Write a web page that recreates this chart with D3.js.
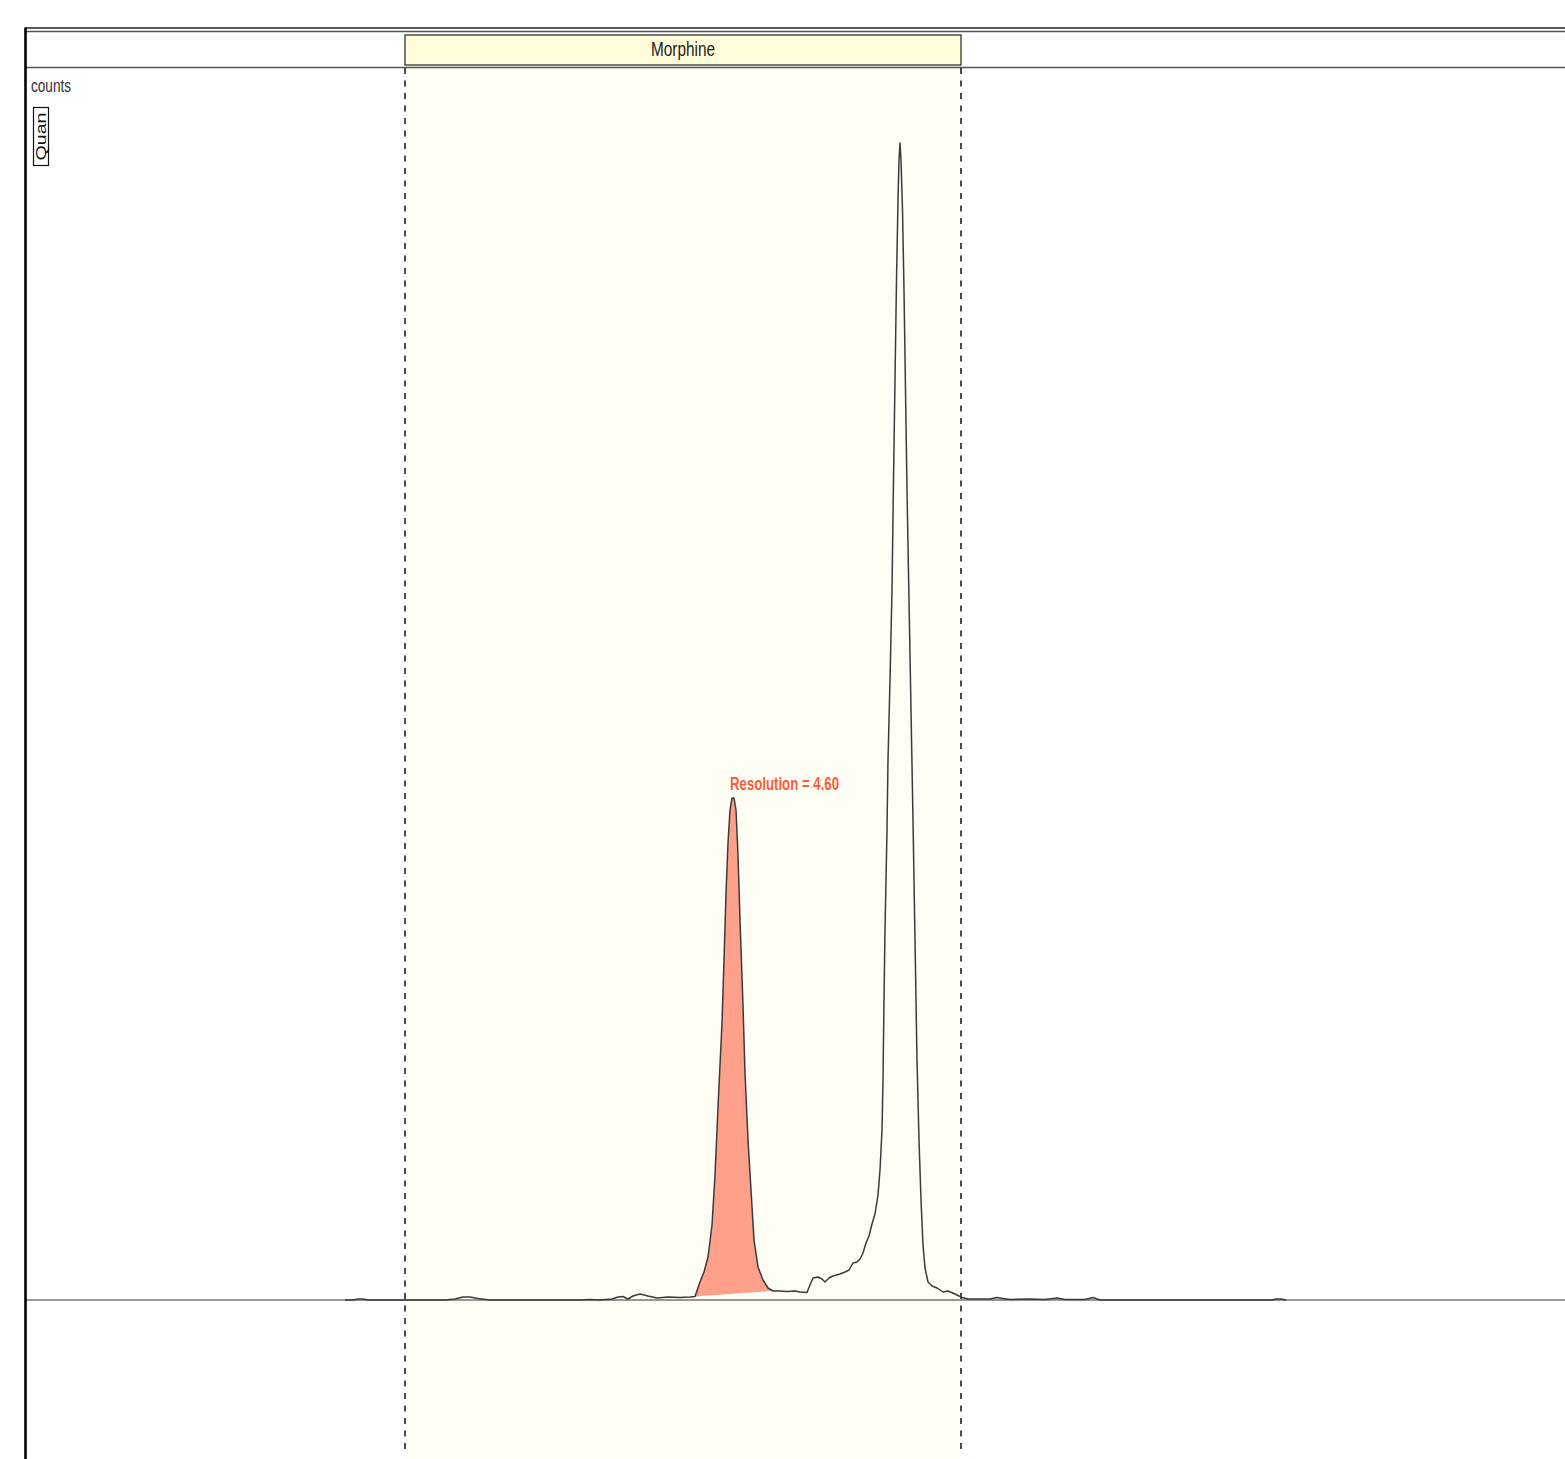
<!DOCTYPE html>
<html>
<head>
<meta charset="utf-8">
<script src="https://cdn.jsdelivr.net/npm/d3@7"></script>
<style>
  html, body { margin: 0; padding: 0; background: #fff; }
  svg { display: block; }
  .narrow { font-family: "Liberation Sans Narrow", "Arial Narrow", "Liberation Sans", Arial, sans-serif; }
</style>
</head>
<body>
<div class="chart"></div>
<script>
// chromatogram trace: retention time (min) / counts
const times = [
  0.640, 0.656, 0.666, 0.676, 0.686, 0.760, 0.840, 0.860, 0.876, 0.890, 0.906, 0.930,
  1.110, 1.130, 1.150, 1.174, 1.186, 1.196, 1.206, 1.216, 1.230, 1.246, 1.264, 1.286,
  1.310, 1.330, 1.340, 1.350, 1.358, 1.366, 1.374, 1.380, 1.386, 1.394, 1.398, 1.402,
  1.406, 1.410, 1.414, 1.418, 1.422, 1.426, 1.430, 1.436, 1.440, 1.446, 1.452, 1.458,
  1.466, 1.476, 1.486, 1.496, 1.510, 1.524, 1.540, 1.550, 1.564, 1.570, 1.576, 1.586,
  1.594, 1.600, 1.608, 1.616, 1.630, 1.640, 1.648, 1.656, 1.664, 1.670, 1.676, 1.682,
  1.688, 1.694, 1.700, 1.706, 1.710, 1.714, 1.716, 1.718, 1.720, 1.724, 1.726, 1.730,
  1.734, 1.737, 1.740, 1.743, 1.746, 1.748, 1.750, 1.752, 1.755, 1.758, 1.761, 1.764,
  1.768, 1.772, 1.776, 1.780, 1.784, 1.788, 1.792, 1.796, 1.800, 1.806, 1.814, 1.824,
  1.836, 1.846, 1.860, 1.874, 1.886, 1.910, 1.930, 1.944, 1.956, 1.970, 2.010, 2.040,
  2.064, 2.080, 2.120, 2.136, 2.150, 2.350, 2.494, 2.502, 2.512, 2.522
];
const counts = [
  0, 0, 200, 200, 0, 0, 0, 200, 600, 600, 300, 0,
  0, 100, 0, 200, 600, 700, 200, 800, 1200, 800, 400, 600,
  500, 600, 700, 3600, 5600, 8600, 15000, 25000, 38600, 55400, 68000, 81400,
  91400, 98000, 100400, 100400, 98000, 89000, 76000, 59000, 45400, 32000, 22000, 12000,
  6600, 4000, 2400, 1800, 1800, 1700, 1800, 1600, 1500, 3000, 4400, 4600,
  4200, 3600, 4400, 4800, 5200, 5600, 6000, 7400, 7600, 8200, 9400, 11400,
  12800, 15200, 17200, 21000, 26000, 34000, 44000, 60000, 74000, 94000, 108000, 124000,
  142000, 164000, 184000, 204000, 220000, 228000, 231400, 228000, 218000, 202000, 182000, 162000,
  140000, 118000, 96000, 72000, 48000, 32000, 20000, 11000, 6400, 3600, 2800, 2400,
  1600, 1800, 1200, 500, 200, 200, 200, 500, 300, 100, 200, 100,
  400, 100, 100, 500, 0, 0, 0, 200, 200, 0
];

const compound = "Morphine";
const windowRange = [0.760, 1.872];      // compound retention window
const peakRange = [1.340, 1.496];        // integrated peak
const resolutionText = "Resolution = 4.60";
const yLabel = "counts";
const traceTag = "Quan";

const width = 1565, height = 1459;
const plotLeft = 25, headerTop = 28, headerBottom = 68;

const data = times.map((t, i) => ({ t: t, c: counts[i] }));

const x = d3.scaleLinear().domain([0, 3.08]).range([plotLeft, width]);
const y = d3.scaleLinear().domain([-31800, 246400]).range([height, headerBottom]);

const svg = d3.select("div.chart").append("svg")
  .attr("width", width)
  .attr("height", height);

svg.append("rect")
  .attr("width", width)
  .attr("height", height)
  .attr("fill", "#ffffff");

// retention window shading
svg.append("rect")
  .attr("x", x(windowRange[0]))
  .attr("y", headerBottom)
  .attr("width", x(windowRange[1]) - x(windowRange[0]))
  .attr("height", height - headerBottom)
  .attr("fill", "#fffef4");

// header lines
svg.append("line")
  .attr("x1", plotLeft).attr("x2", width)
  .attr("y1", headerTop).attr("y2", headerTop)
  .attr("stroke", "#222").attr("stroke-width", 1.5);
svg.append("line")
  .attr("x1", plotLeft).attr("x2", width)
  .attr("y1", headerTop + 3.5).attr("y2", headerTop + 3.5)
  .attr("stroke", "#555").attr("stroke-width", 1.3);
svg.append("line")
  .attr("x1", plotLeft).attr("x2", width)
  .attr("y1", headerBottom - 0.5).attr("y2", headerBottom - 0.5)
  .attr("stroke", "#555").attr("stroke-width", 1.3);

// compound label box
svg.append("rect")
  .attr("x", x(windowRange[0]))
  .attr("y", 35)
  .attr("width", x(windowRange[1]) - x(windowRange[0]))
  .attr("height", 30)
  .attr("fill", "#fffdd9")
  .attr("stroke", "#222")
  .attr("stroke-width", 1.2);

svg.append("text")
  .attr("class", "narrow")
  .attr("x", (x(windowRange[0]) + x(windowRange[1])) / 2)
  .attr("y", 56)
  .attr("text-anchor", "middle")
  .attr("font-size", 21)
  .attr("textLength", 64)
  .attr("lengthAdjust", "spacingAndGlyphs")
  .attr("fill", "#222")
  .text(compound);

// window boundaries
svg.selectAll("line.window")
  .data(windowRange)
  .join("line")
  .attr("class", "window")
  .attr("x1", d => x(d)).attr("x2", d => x(d))
  .attr("y1", headerBottom).attr("y2", height - 5)
  .attr("stroke", "#000")
  .attr("stroke-width", 1.4)
  .attr("stroke-dasharray", "6,6.5");

// zero line
svg.append("line")
  .attr("x1", plotLeft).attr("x2", width)
  .attr("y1", y(0)).attr("y2", y(0))
  .attr("stroke", "#333")
  .attr("stroke-width", 1.2);

// integrated peak fill, baseline drawn between the peak start and end points
const peakData = data.filter(d => d.t >= peakRange[0] && d.t <= peakRange[1]);
const b0 = peakData[0], b1 = peakData[peakData.length - 1];
const baseAt = t => b0.c + (b1.c - b0.c) * (t - b0.t) / (b1.t - b0.t);

svg.append("path")
  .datum(peakData)
  .attr("fill", "#ffa08b")
  .attr("d", d3.area()
    .x(d => x(d.t))
    .y0(d => y(baseAt(d.t)))
    .y1(d => y(d.c)));

// trace
svg.append("path")
  .datum(data)
  .attr("fill", "none")
  .attr("stroke", "#3a3a3a")
  .attr("stroke-width", 1.5)
  .attr("stroke-linejoin", "round")
  .attr("d", d3.line().x(d => x(d.t)).y(d => y(d.c)));

// resolution label above the integrated peak apex
const apex = peakData.reduce((a, b) => (b.c > a.c ? b : a));
svg.append("text")
  .attr("class", "narrow")
  .attr("x", x(apex.t) - 2)
  .attr("y", y(apex.c) - 8)
  .attr("font-size", 19)
  .attr("font-weight", "bold")
  .attr("textLength", 109)
  .attr("lengthAdjust", "spacingAndGlyphs")
  .attr("fill", "#ff5a3c")
  .text(resolutionText);

// y label and trace tag
svg.append("text")
  .attr("class", "narrow")
  .attr("x", plotLeft + 6)
  .attr("y", 92)
  .attr("font-size", 19)
  .attr("textLength", 40)
  .attr("lengthAdjust", "spacingAndGlyphs")
  .attr("fill", "#333")
  .text(yLabel);

svg.append("rect")
  .attr("x", 33.5).attr("y", 107.5)
  .attr("width", 15).attr("height", 58)
  .attr("fill", "none")
  .attr("stroke", "#111")
  .attr("stroke-width", 1.2);

// tag reads bottom to top
svg.append("text")
  .attr("transform", "translate(41,136.5) rotate(-90)")
  .attr("text-anchor", "middle")
  .attr("dy", "0.36em")
  .attr("font-family", "Liberation Sans, Arial, sans-serif")
  .attr("font-size", 14)
  .attr("textLength", 48)
  .attr("lengthAdjust", "spacingAndGlyphs")
  .attr("fill", "#111")
  .text(traceTag);

// left frame edge
svg.append("line")
  .attr("x1", plotLeft + 0.5).attr("x2", plotLeft + 0.5)
  .attr("y1", headerTop - 0.5).attr("y2", height)
  .attr("stroke", "#000")
  .attr("stroke-width", 2.6);
</script>
</body>
</html>
